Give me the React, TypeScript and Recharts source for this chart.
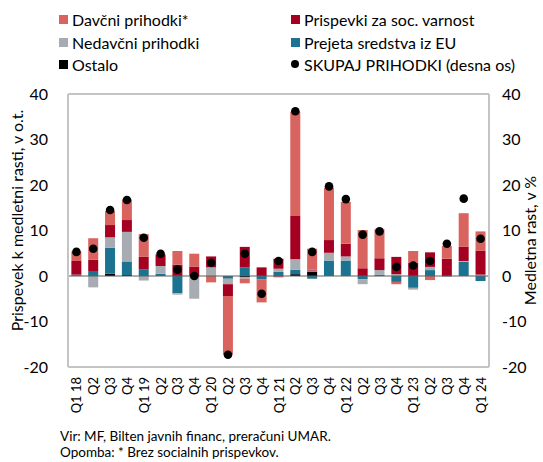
import React from "react";
import {
  ComposedChart,
  Bar,
  Line,
  XAxis,
  YAxis,
  CartesianGrid,
  ReferenceLine,
} from "recharts";

const quarters = [
  "Q1 18", "Q2", "Q3", "Q4",
  "Q1 19", "Q2", "Q3", "Q4",
  "Q1 20", "Q2", "Q3", "Q4",
  "Q1 21", "Q2", "Q3", "Q4",
  "Q1 22", "Q2", "Q3", "Q4",
  "Q1 23", "Q2", "Q3", "Q4",
  "Q1 24",
];

const davcni = [2.1, 4.7, 3.1, 4.5, 5.0, 0.2, 3.0, 2.9, -1.4, -12.9, -1.0, -5.1, -0.3, 22.9, 4.6, 11.5, 9.2, 8.4, 6.4, -0.5, 2.6, -0.9, 2.8, 7.4, 4.2];
const prispevki = [3.0, 2.5, 2.7, 2.6, 2.7, 2.4, 2.5, 2.0, 2.4, -2.6, 4.5, 1.9, 2.2, 9.5, 0.2, 2.8, 2.8, 1.7, 2.6, 3.8, 2.9, 3.2, 3.8, 3.1, 5.3];
const nedavcni = [0, -2.5, 2.3, 6.5, -1.0, 1.7, -0.3, -5.0, 1.9, -1.2, -0.3, 0, 0.7, 2.3, 0.2, 1.7, 0.9, -1.1, 1.0, 0.4, -0.4, 0.7, -0.2, 0.2, 0.3];
const eu = [0.2, 1.1, 5.7, 3.0, 1.5, 0.5, -3.8, 0, 0, -0.6, 1.9, -0.7, 0.9, 1.0, -0.6, 3.4, 3.4, -0.7, 0.3, -1.3, -2.6, 1.3, 0, 3.1, -1.1];
const ostalo = [0.1, 0, 0.5, 0.2, 0, 0, 0, 0, 0, 0, -0.3, 0, 0, 0.4, 1.0, 0, 0, 0, 0, 0, 0, 0, 0, 0, 0];
const skupaj = [5.3, 6.0, 14.5, 16.7, 8.4, 4.9, 1.4, 0.0, 2.9, -17.3, 4.9, -3.9, 3.3, 36.2, 5.3, 19.7, 16.9, 9.1, 9.8, 2.0, 2.3, 3.3, 7.1, 17.0, 8.2];

const yTicks = [-20, -10, 0, 10, 20, 30, 40];

const data = quarters.map((q, i) => ({
  q,
  davcni: davcni[i],
  prispevki: prispevki[i],
  nedavcni: nedavcni[i],
  eu: eu[i],
  ostalo: ostalo[i],
  skupaj: skupaj[i],
}));

const FONT = "Lato, 'Noto Sans', sans-serif";

const COLORS = {
  davcni: "#d9635f",
  prispevki: "#a50021",
  nedavcni: "#a7acb2",
  eu: "#1c7391",
  ostalo: "#000000",
};

const legendItems = [
  { label: "Davčni prihodki*", color: COLORS.davcni, x: 59, y: 10 },
  { label: "Prispevki za soc. varnost", color: COLORS.prispevki, x: 291, y: 10 },
  { label: "Nedavčni prihodki", color: COLORS.nedavcni, x: 59, y: 33 },
  { label: "Prejeta sredstva iz EU", color: COLORS.eu, x: 291, y: 33 },
  { label: "Ostalo", color: COLORS.ostalo, x: 59, y: 55 },
];

const XTick = (props: any) => {
  const { x, y, payload } = props;
  return (
    <text
      x={x}
      y={y}
      transform={`rotate(-90 ${x} ${y})`}
      textAnchor="end"
      dominantBaseline="central"
      fontSize={13}
      fontFamily={FONT}
      fill="#000"
    >
      {payload.value}
    </text>
  );
};

export default function App() {
  return (
    <div
      style={{
        position: "absolute",
        left: 0,
        top: 0,
        width: 543,
        height: 462,
        background: "#fff",
        fontFamily: FONT,
      }}
    >
      {legendItems.map((it) => (
        <div
          key={it.label}
          style={{
            position: "absolute",
            left: it.x,
            top: it.y,
            display: "flex",
            alignItems: "center",
            fontSize: 16,
            height: 18,
            whiteSpace: "nowrap",
          }}
        >
          <span style={{ width: 9, height: 9, background: it.color, marginRight: 4 }} />
          {it.label}
        </div>
      ))}
      <div
        style={{
          position: "absolute",
          left: 291,
          top: 55,
          display: "flex",
          alignItems: "center",
          fontSize: 16,
          height: 18,
          whiteSpace: "nowrap",
        }}
      >
        <span style={{ width: 8, height: 8, borderRadius: 4, background: "#000", marginRight: 5 }} />
        SKUPAJ PRIHODKI (desna os)
      </div>

      <div style={{ position: "absolute", left: 0, top: 0 }}>
        <ComposedChart
          width={543}
          height={420}
          data={data}
          stackOffset="sign"
          barCategoryGap="20%"
          margin={{ top: 94, right: 0, bottom: 0, left: 0 }}
        >
          <CartesianGrid vertical={false} stroke="#d6d6d6" strokeWidth={1.5} />
          <XAxis
            dataKey="q"
            interval={0}
            tick={<XTick />}
            tickLine={false}
            axisLine={{ stroke: "#c4c4c4", strokeWidth: 2 }}
            height={53}
            tickMargin={4}
          />
          <YAxis
            yAxisId="left"
            domain={[-20, 40]}
            ticks={yTicks}
            width={68}
            tickLine={false}
            tickSize={0}
            tickMargin={20}
            axisLine={{ stroke: "#c4c4c4", strokeWidth: 2 }}
            tick={{ fontSize: 16, fill: "#000", fontFamily: FONT }}
            label={{
              value: "Prispevek k medletni rasti, v o.t.",
              angle: -90,
              position: "insideLeft",
              offset: 17,
              dy: -10,
              style: { textAnchor: "middle", fontSize: 16, fill: "#000", fontFamily: FONT },
            }}
          />
          <YAxis
            yAxisId="right"
            orientation="right"
            domain={[-20, 40]}
            ticks={yTicks}
            width={54}
            tickLine={false}
            tickSize={0}
            tickMargin={13}
            axisLine={{ stroke: "#c4c4c4", strokeWidth: 2 }}
            tick={{ fontSize: 16, fill: "#000", fontFamily: FONT, textAnchor: "start" }}
            label={{
              value: "Medletna rast, v %",
              angle: -90,
              position: "insideRight",
              offset: 13,
              dy: 10,
              style: { textAnchor: "middle", fontSize: 16, fill: "#000", fontFamily: FONT },
            }}
          />
          <ReferenceLine yAxisId="left" y={40} stroke="#c4c4c4" strokeWidth={2} />
          <Bar yAxisId="left" dataKey="ostalo" stackId="a" fill={COLORS.ostalo} isAnimationActive={false} />
          <Bar yAxisId="left" dataKey="eu" stackId="a" fill={COLORS.eu} isAnimationActive={false} />
          <Bar yAxisId="left" dataKey="nedavcni" stackId="a" fill={COLORS.nedavcni} isAnimationActive={false} />
          <Bar yAxisId="left" dataKey="prispevki" stackId="a" fill={COLORS.prispevki} isAnimationActive={false} />
          <Bar yAxisId="left" dataKey="davcni" stackId="a" fill={COLORS.davcni} isAnimationActive={false} />
          <ReferenceLine yAxisId="left" y={0} stroke="#5f5f5f" strokeWidth={1.2} />
          <Line
            yAxisId="right"
            dataKey="skupaj"
            stroke="none"
            dot={{ r: 4.3, fill: "#000", stroke: "none" }}
            activeDot={false}
            isAnimationActive={false}
          />
        </ComposedChart>
      </div>

      <div
        style={{
          position: "absolute",
          left: 60,
          top: 428,
          fontSize: 13.5,
          lineHeight: "16px",
          whiteSpace: "nowrap",
        }}
      >
        <div>Vir: MF, Bilten javnih financ, preračuni UMAR.</div>
        <div>Opomba: * Brez socialnih prispevkov.</div>
      </div>
    </div>
  );
}
